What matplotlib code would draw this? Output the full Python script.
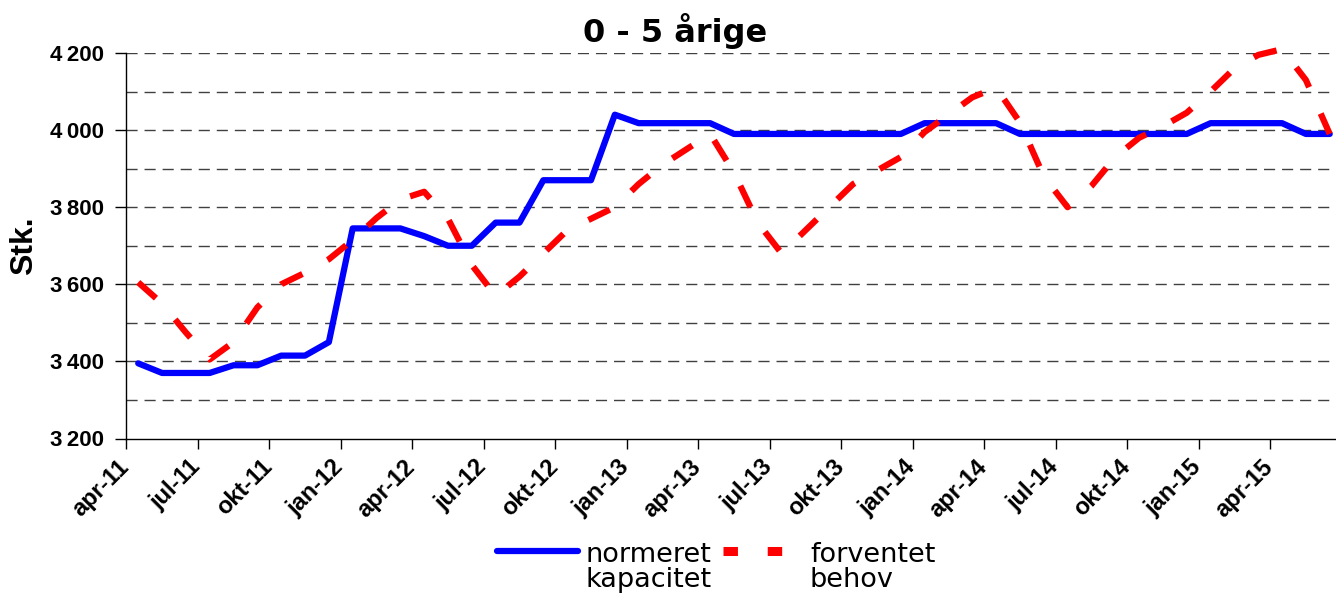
import numpy as np
import matplotlib
matplotlib.use('Agg')
import matplotlib.pyplot as plt
from matplotlib.lines import Line2D
from matplotlib.ticker import FixedLocator
from matplotlib.transforms import ScaledTranslation

# Données (une valeur par mois, apr-11 .. jun-15)
normeret_kapacitet = [3395, 3370, 3370, 3370, 3390, 3390, 3415, 3415, 3450, 3745,
                      3745, 3745, 3725, 3700, 3700, 3760, 3760, 3870, 3870, 3870,
                      4040, 4018, 4018, 4018, 4018, 3990, 3990, 3990, 3990, 3990,
                      3990, 3990, 3990, 4018, 4018, 4018, 4018, 3990, 3990, 3990,
                      3990, 3990, 3990, 3990, 3990, 4018, 4018, 4018, 4018, 3990,
                      3990]
forventet_behov = [3605, 3550, 3475, 3405, 3450, 3540, 3600, 3630, 3665, 3715,
                   3772, 3820, 3840, 3770, 3650, 3570, 3620, 3680, 3740, 3770,
                   3800, 3860, 3910, 3950, 3990, 3890, 3760, 3680, 3740, 3800,
                   3860, 3895, 3930, 3995, 4040, 4085, 4110, 4020, 3880, 3800,
                   3855, 3930, 3980, 4010, 4045, 4100, 4160, 4195, 4210, 4130,
                   3990]
x_labels = ['apr-11', 'jul-11', 'okt-11', 'jan-12', 'apr-12', 'jul-12',
            'okt-12', 'jan-13', 'apr-13', 'jul-13', 'okt-13', 'jan-14',
            'apr-14', 'jul-14', 'okt-14', 'jan-15', 'apr-15']
y_major = [3200, 3400, 3600, 3800, 4000, 4200]
y_labels = ['3\u2009200', '3\u2009400', '3\u2009600', '3\u2009800', '4\u2009000', '4\u2009200']

W, H = 1336, 601
fig = plt.figure(figsize=(W / 100, H / 100), dpi=100)
ax = fig.add_axes([126.3 / W, 1 - 438.5 / H, (W - 126.3) / W, (438.5 - 53) / H])

x = np.arange(len(normeret_kapacitet))

# grille pointillée tous les 100
for v in range(3300, 4201, 100):
    ax.axhline(v, color='#404040', lw=1.0, linestyle=(0, (8, 5)), zorder=1)

ax.plot(x, normeret_kapacitet, color='#0000FF', lw=4.5,
        solid_capstyle='round', solid_joinstyle='round', zorder=3)
ax.plot(x, forventet_behov, color='#FF0000', lw=4.5,
        linestyle=(0, (3.8, 4.6)), dash_capstyle='butt', zorder=4, clip_on=False)

ax.set_xlim(-0.5, (W - 126.3) / 23.83 - 0.5)
ax.set_ylim(3200, 4200)

# axes
for s in ['top', 'right']:
    ax.spines[s].set_visible(False)
ax.spines['left'].set_color('black')
ax.spines['bottom'].set_color('black')
ax.spines['left'].set_linewidth(1)
ax.spines['bottom'].set_linewidth(1)

ax.set_yticks(y_major)
ax.set_yticklabels(y_labels, fontfamily='Liberation Sans', fontweight='bold', fontsize=16)
ax.tick_params(axis='y', length=8, width=1, pad=8, color='black')

# traits de graduation entre les catégories, étiquettes tous les 3 mois
tick_pos = np.arange(0, 51, 3) - 0.5
ax.xaxis.set_major_locator(FixedLocator(tick_pos))
ax.set_xticklabels(x_labels, rotation=45, ha='right',
                   rotation_mode='anchor', fontfamily='Liberation Sans',
                   fontweight='bold', fontsize=17)
ax.tick_params(axis='x', which='major', length=7, width=1, color='black', pad=5)
shift = ScaledTranslation(-9 / 100, 0, fig.dpi_scale_trans)
for lab in ax.get_xticklabels():
    lab.set_transform(lab.get_transform() + shift)

fig.text(24 / W, 1 - 246 / H, 'Stk.', rotation=90, ha='center', va='center',
         fontfamily='Liberation Sans', fontweight='bold', fontsize=23)

fig.text(675 / W, 1 - 31 / H, '0 - 5 årige', ha='center', va='center',
         fontfamily='DejaVu Sans', fontweight='bold', fontsize=23)

# légende
ly = 1 - 551 / H
fig.add_artist(Line2D([497 / W, 578 / W], [ly, ly], color='#0000FF', lw=4.5,
                      solid_capstyle='round', transform=fig.transFigure))
fig.add_artist(Line2D([723 / W, 786 / W], [ly, ly], color='#FF0000', lw=6.5,
                      linestyle=(0, (1.6, 3.3)), dash_capstyle='butt',
                      transform=fig.transFigure))
fig.text(585 / W, 1 - 542 / H, 'normeret\nkapacitet', ha='left', va='top',
         fontfamily='DejaVu Sans', fontsize=19.5, linespacing=0.95)
fig.text(810 / W, 1 - 542 / H, 'forventet\nbehov', ha='left', va='top',
         fontfamily='DejaVu Sans', fontsize=19.5, linespacing=0.95)

fig.savefig('out.png', dpi=100)
